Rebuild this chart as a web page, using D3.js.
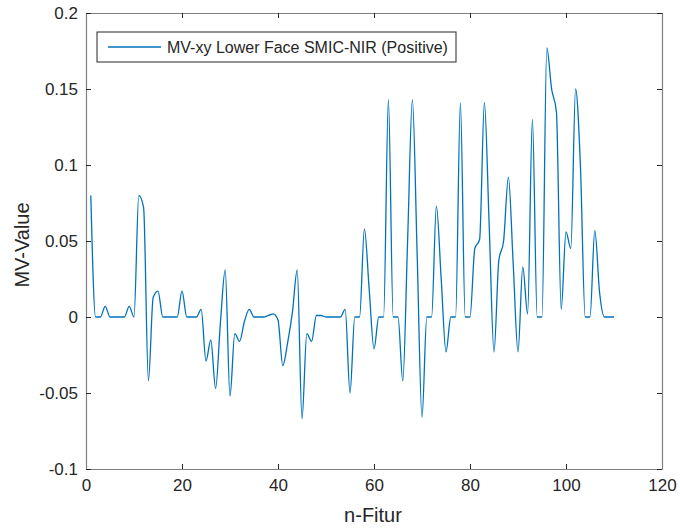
<!DOCTYPE html>
<html>
<head>
<meta charset="utf-8">
<script src="https://cdn.jsdelivr.net/npm/d3@7"></script>
<style>
  html, body { margin: 0; padding: 0; background: #fff; }
  svg { display: block; }
  text { font-family: "Liberation Sans", Arial, Helvetica, sans-serif; fill: #262626; }
</style>
</head>
<body>
<svg id="chart" width="680" height="529"></svg>
<script>
// ---- data ----
const seriesName = "MV-xy Lower Face SMIC-NIR (Positive)";
const xLabel = "n-Fitur";
const yLabel = "MV-Value";
const xTicks = [0, 20, 40, 60, 80, 100, 120];
const yTicks = [-0.1, -0.05, 0, 0.05, 0.1, 0.15, 0.2];
const yTickLabels = ["-0.1", "-0.05", "0", "0.05", "0.1", "0.15", "0.2"];
const values = [
  0.080, 0, 0, 0.007, 0, 0, 0, 0, 0.007, 0,            // 1-10
  0.080, 0.072, -0.042, 0.013, 0.017, 0, 0, 0, 0, 0.017, // 11-20
  0, 0, 0, 0.005, -0.029, -0.015, -0.047, -0.004, 0.031, -0.052, // 21-30
  -0.011, -0.016, -0.003, 0.005, 0, 0, 0, 0.001, 0.002, -0.002, // 31-40
  -0.032, -0.017, 0.003, 0.031, -0.067, -0.011, -0.016, 0.001, 0.001, 0, // 41-50
  0, 0, 0, 0.005, -0.050, 0, 0, 0.058, 0.018, -0.021, // 51-60
  0, 0, 0.143, 0, 0, -0.042, 0.050, 0.143, 0.040, -0.066, // 61-70
  0, 0, 0.073, 0.025, -0.023, 0, 0, 0.141, 0, 0,        // 71-80
  0.045, 0.051, 0.141, 0.060, -0.023, 0.037, 0.050, 0.092, 0.035, -0.023, // 81-90
  0.033, 0.002, 0.130, 0, 0, 0.177, 0.150, 0.135, 0.005, 0.056, // 91-100
  0.045, 0.150, 0.100, 0, 0, 0.057, 0.016, 0, 0, 0      // 101-110
];
const points = values.map((v, i) => ({ n: i + 1, v: v }));

// ---- layout ----
const svg = d3.select("#chart");
const L = 86, R = 662, T = 13, B = 469;

const x = d3.scaleLinear().domain([0, 120]).range([L, R]);
const y = d3.scaleLinear().domain([-0.1, 0.2]).range([B, T]);

const axisColor = "#262626";
const boxColor = "#808080";
const lineColor = "#0072BD";

// plot background
svg.append("rect").attr("x", L).attr("y", T).attr("width", R - L).attr("height", B - T)
  .attr("fill", "#fff");

// data line
const line = d3.line().x(d => x(d.n)).y(d => y(d.v)).curve(d3.curveMonotoneX);
svg.append("path").datum(points)
  .attr("d", line)
  .attr("fill", "none")
  .attr("stroke", lineColor)
  .attr("stroke-width", 1.3)
  .attr("stroke-linejoin", "round");

// axes (inside ticks, box)
const tickLen = 5;
const gx = svg.append("g").attr("transform", `translate(0,${B})`)
  .call(d3.axisBottom(x).tickValues(xTicks).tickSizeInner(-tickLen).tickSizeOuter(0).tickPadding(10));
const gxTop = svg.append("g").attr("transform", `translate(0,${T})`)
  .call(d3.axisTop(x).tickValues(xTicks).tickSizeInner(-tickLen).tickSizeOuter(0).tickFormat(""));
const gy = svg.append("g").attr("transform", `translate(${L},0)`)
  .call(d3.axisLeft(y).tickValues(yTicks).tickSizeInner(-tickLen).tickSizeOuter(0).tickPadding(8)
    .tickFormat((d, i) => yTickLabels[i]));
const gyR = svg.append("g").attr("transform", `translate(${R},0)`)
  .call(d3.axisRight(y).tickValues(yTicks).tickSizeInner(-tickLen).tickSizeOuter(0).tickFormat(""));

[gx, gxTop, gy, gyR].forEach(g => {
  g.select(".domain").attr("stroke", boxColor).attr("stroke-width", 1.2);
  g.selectAll(".tick line").attr("stroke", axisColor).attr("stroke-width", 1);
  g.selectAll("text").attr("font-size", 17).attr("fill", axisColor)
    .attr("font-family", "Liberation Sans, Arial, sans-serif");
});

// axis labels
svg.append("text").attr("x", (L + R) / 2 - 1).attr("y", 522)
  .attr("text-anchor", "middle").attr("font-size", 20).text(xLabel);
svg.append("text").attr("transform", `translate(29,${(T + B) / 2 + 4}) rotate(-90)`)
  .attr("text-anchor", "middle").attr("font-size", 20).text(yLabel);

// legend
const lg = svg.append("g");
lg.append("rect").attr("x", 97).attr("y", 32).attr("width", 359).attr("height", 30)
  .attr("fill", "#fff").attr("stroke", "#262626").attr("stroke-width", 1);
lg.append("line").attr("x1", 108).attr("x2", 161).attr("y1", 47).attr("y2", 47)
  .attr("stroke", lineColor).attr("stroke-width", 1.3);
lg.append("text").attr("x", 167).attr("y", 52.5).attr("font-size", 16).text(seriesName);
</script>
</body>
</html>
